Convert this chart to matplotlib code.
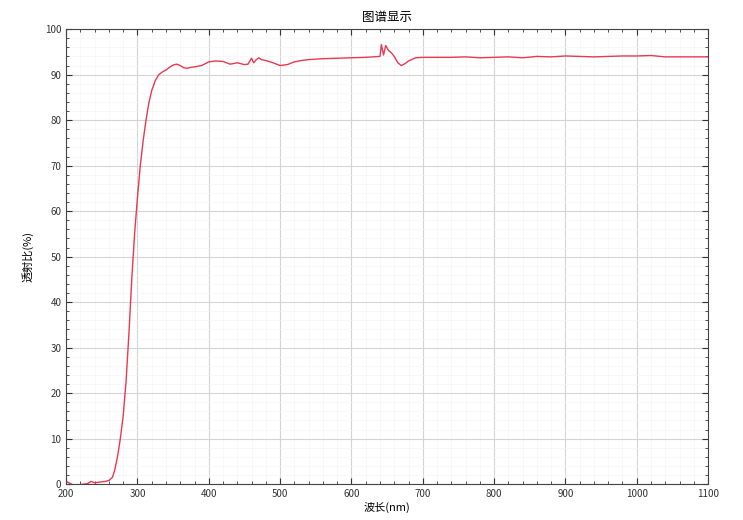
import matplotlib
matplotlib.use('Agg')
from matplotlib import pyplot as plt
from matplotlib.ticker import MultipleLocator

plt.rcParams['font.family'] = ['Noto Sans CJK SC', 'DejaVu Sans']

# 波长 (nm) 与透射比 (%)
wavelength = [200, 205, 210, 215, 220, 225, 230, 235, 240, 245, 250, 255, 260, 265,
              268, 272, 276, 280, 284, 288, 292, 296, 300, 304, 308, 312, 316, 320,
              325, 330, 335, 340, 345, 350, 355, 360, 365, 370, 375, 380, 390, 400,
              410, 420, 430, 440, 450, 455, 460, 463, 466, 470, 474, 480, 490, 500,
              510, 520, 530, 540, 560, 580, 600, 620, 640, 642, 645, 648, 652, 656,
              660, 665, 670, 675, 680, 690, 700, 720, 740, 760, 780, 800, 820, 840,
              860, 880, 900, 920, 940, 960, 980, 1000, 1020, 1040, 1060, 1080, 1100]
transmittance = [0.6, 0.2, -0.2, -0.3, -0.1, 0.0, 0.1, 0.6, 0.3, 0.4, 0.5, 0.6, 0.8, 1.5,
                 3.0, 6.0, 10.0, 15.0, 22.5, 33.0, 45.0, 55.0, 63.0, 70.0, 75.5, 80.0, 83.8, 86.5,
                 88.7, 90.0, 90.6, 91.0, 91.6, 92.1, 92.3, 92.0, 91.5, 91.4, 91.6, 91.7, 92.0, 92.8,
                 93.0, 92.9, 92.3, 92.6, 92.2, 92.3, 93.6, 92.6, 93.2, 93.7, 93.3, 93.1, 92.6, 92.0,
                 92.2, 92.8, 93.1, 93.3, 93.5, 93.6, 93.7, 93.8, 94.0, 96.6, 94.3, 96.4, 95.3, 94.8,
                 94.0, 92.6, 92.0, 92.4, 93.0, 93.7, 93.8, 93.8, 93.8, 93.9, 93.7, 93.8, 93.9, 93.7,
                 94.0, 93.9, 94.1, 94.0, 93.9, 94.0, 94.1, 94.1, 94.2, 93.9, 93.9, 93.9, 93.9]

fig = plt.figure(figsize=(7.43, 5.2), dpi=100)
axe = fig.add_axes([0.089, 0.069, 0.864, 0.875])
axe.plot(wavelength, transmittance, color='#e8394f', linewidth=1.0)

axe.set_xlim(200, 1100)
axe.set_ylim(0, 100)
axe.xaxis.set_major_locator(MultipleLocator(100))
axe.xaxis.set_minor_locator(MultipleLocator(20))
axe.yaxis.set_major_locator(MultipleLocator(10))
axe.yaxis.set_minor_locator(MultipleLocator(2))
axe.grid(which='major', color='#d4d4d4', linewidth=0.8)
axe.grid(which='minor', color='#f5f5f5', linewidth=0.5)
axe.set_axisbelow(True)
axe.tick_params(which='both', direction='in', top=True, right=True, labelsize=7, colors='#333333')
axe.tick_params(which='major', length=4)
axe.tick_params(which='minor', length=2)
for s in axe.spines.values():
    s.set_color('#444444')

axe.set_title('图谱显示', fontsize=9, pad=6)
axe.set_xlabel('波长(nm)', fontsize=8, labelpad=2)
axe.set_ylabel('透射比(%)', fontsize=8, labelpad=8)

fig.savefig('out.png')
